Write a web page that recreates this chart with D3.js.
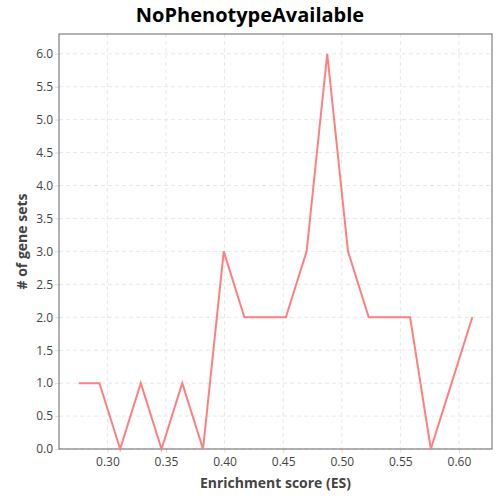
<!DOCTYPE html>
<html><head><meta charset="utf-8">
<script src="https://cdn.jsdelivr.net/npm/d3@7"></script>
<style>body{margin:0;background:#fff;}svg{display:block;}</style>
</head><body>
<svg id="c" width="500" height="500"></svg>
<script>
const esValues = [0.2755, 0.2932, 0.3109, 0.3285, 0.3462, 0.3639, 0.3816, 0.3993, 0.4169, 0.4346, 0.4523, 0.4700, 0.4876, 0.5053, 0.5230, 0.5407, 0.5583, 0.5760, 0.5937, 0.6114];
const counts = [1, 1, 0, 1, 0, 1, 0, 3, 2, 2, 2, 3, 6, 3, 2, 2, 2, 0, 1, 2];
const xTicks = [0.30, 0.35, 0.40, 0.45, 0.50, 0.55, 0.60];
const yTicks = [0, 0.5, 1, 1.5, 2, 2.5, 3, 3.5, 4, 4.5, 5, 5.5, 6];
const title = "NoPhenotypeAvailable";
const xLabel = "Enrichment score (ES)";
const yLabel = "# of gene sets";

const svg = d3.select("#c");
const m = {l:59, r:8, t:34, b:51};
const W = 500, H = 500;
const xmin = d3.min(esValues), xmax = d3.max(esValues);
const pad = (xmax - xmin) * 0.05;
const x = d3.scaleLinear().domain([xmin - pad, xmax + pad]).range([m.l, W - m.r]);
const ymax = d3.max(counts);
const y = d3.scaleLinear().domain([0, ymax * 1.05]).range([H - m.b, m.t]);
const font = "'Open Sans', sans-serif";

// grid
const g = svg.append("g");
g.selectAll(".gx").data(xTicks).enter().append("line")
  .attr("x1", d => x(d)).attr("x2", d => x(d)).attr("y1", m.t).attr("y2", H - m.b)
  .attr("stroke", "#e8e8e8").attr("stroke-dasharray", "4,3");
g.selectAll(".gy").data(yTicks).enter().append("line")
  .attr("y1", d => y(d)).attr("y2", d => y(d)).attr("x1", m.l).attr("x2", W - m.r)
  .attr("stroke", "#e8e8e8").attr("stroke-dasharray", "4,3");

// axes
const xAxis = svg.append("g").attr("transform", `translate(0,${H - m.b})`)
  .call(d3.axisBottom(x).tickValues(xTicks).tickFormat(d3.format(".2f")).tickSize(4).tickPadding(4));
const yAxis = svg.append("g").attr("transform", `translate(${m.l},0)`)
  .call(d3.axisLeft(y).tickValues(yTicks).tickFormat(d3.format(".1f")).tickSize(4).tickPadding(2));
[xAxis, yAxis].forEach(a => {
  a.select(".domain").remove();
  a.selectAll(".tick line").attr("stroke", "#ddd");
  a.selectAll(".tick text").attr("fill", "#444").style("font-family", font).style("font-size", "12px");
});

// frame
svg.append("rect").attr("x", m.l).attr("y", m.t).attr("width", W - m.r - m.l).attr("height", H - m.b - m.t)
  .attr("fill", "none").attr("stroke", "#666").attr("stroke-width", 1);

// line
const line = d3.line().x((d, i) => x(esValues[i])).y(d => y(d));
svg.append("path").datum(counts).attr("d", line)
  .attr("fill", "none").attr("stroke", "#ff7f7f").attr("stroke-width", 2).attr("stroke-linejoin", "miter");

// labels
svg.append("text").attr("x", 250).attr("y", 22).attr("text-anchor", "middle")
  .style("font-family", font).style("font-weight", "bold").style("font-size", "20px").attr("fill", "#000").text(title);
svg.append("text").attr("x", (m.l + W - m.r) / 2).attr("y", 488).attr("text-anchor", "middle")
  .style("font-family", font).style("font-weight", "bold").style("font-size", "14px").attr("fill", "#444").text(xLabel);
svg.append("text").attr("transform", `translate(27,${(m.t + H - m.b) / 2}) rotate(-90)`).attr("text-anchor", "middle")
  .style("font-family", font).style("font-weight", "bold").style("font-size", "14px").attr("fill", "#444").text(yLabel);
</script>
</body></html>
